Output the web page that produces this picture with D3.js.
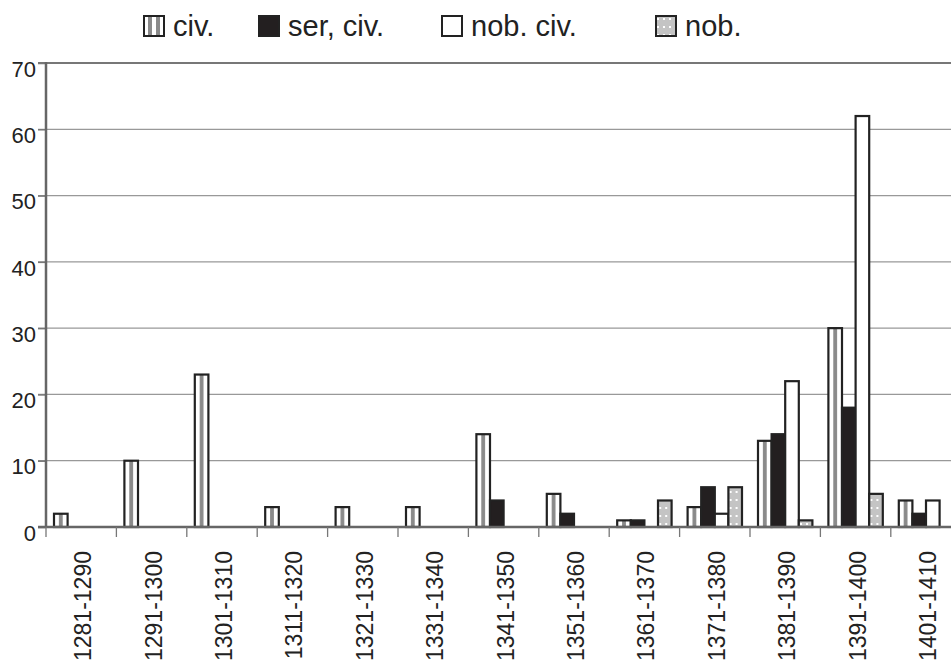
<!DOCTYPE html>
<html>
<head>
<meta charset="utf-8">
<script src="https://cdn.jsdelivr.net/npm/d3@7"></script>
<style>
  body { margin: 0; background: #fff; }
  svg { display: block; font-family: "Liberation Sans", Arial, sans-serif; }
</style>
</head>
<body>
<svg id="chart" width="951" height="665"></svg>
<script>
// Decades on the x axis
const decades = ["1281-1290", "1291-1300", "1301-1310", "1311-1320", "1321-1330", "1331-1340",
  "1341-1350", "1351-1360", "1361-1370", "1371-1380", "1381-1390", "1391-1400", "1401-1410"];
const seriesNames = ["civ.", "ser, civ.", "nob. civ.", "nob."];
// Values per series, one per decade
const civ     = [2, 10, 23, 3, 3, 3, 14, 5, 1, 3, 13, 30, 4];
const serCiv  = [0, 0, 0, 0, 0, 0, 4, 2, 1, 6, 14, 18, 2];
const nobCiv  = [0, 0, 0, 0, 0, 0, 0, 0, 0, 2, 22, 62, 4];
const nob     = [0, 0, 0, 0, 0, 0, 0, 0, 4, 6, 1, 5, 0];
const yTicks  = [0, 10, 20, 30, 40, 50, 60, 70];

const allSeries = [civ, serCiv, nobCiv, nob];

const svg = d3.select("#chart");
const plotLeft = 46, plotBottom = 527, plotTop = 63;

// Patterns for the filled bars
const defs = svg.append("defs");
const pStripe = defs.append("pattern").attr("id", "stripe")
  .attr("patternContentUnits", "objectBoundingBox")
  .attr("width", 1).attr("height", 1);
pStripe.append("rect").attr("width", 1).attr("height", 1).attr("fill", "#fff");
pStripe.append("rect").attr("x", 0.36).attr("width", 0.28).attr("height", 1).attr("fill", "#8a8a8a");

const pStripeLeg = defs.append("pattern").attr("id", "stripeLeg")
  .attr("patternContentUnits", "objectBoundingBox")
  .attr("width", 1).attr("height", 1);
pStripeLeg.append("rect").attr("width", 1).attr("height", 1).attr("fill", "#fff");
pStripeLeg.append("rect").attr("x", 0.2).attr("width", 0.2).attr("height", 1).attr("fill", "#8a8a8a");
pStripeLeg.append("rect").attr("x", 0.6).attr("width", 0.2).attr("height", 1).attr("fill", "#8a8a8a");

const pDots = defs.append("pattern").attr("id", "dots")
  .attr("patternUnits", "userSpaceOnUse").attr("width", 6).attr("height", 8);
pDots.append("rect").attr("width", 6).attr("height", 8).attr("fill", "#c4c4c4");
pDots.append("rect").attr("x", 2).attr("y", 3).attr("width", 2).attr("height", 2).attr("fill", "#fff");

const fills = ["url(#stripe)", "#231f20", "#fff", "url(#dots)"];
const legendFills = ["url(#stripeLeg)", "#231f20", "#fff", "url(#dots)"];

// Scales
const x0 = d3.scaleBand().domain(decades).range([plotLeft, plotLeft + 13 * 70.4]).padding(0);
const x1 = d3.scaleBand().domain(seriesNames).range([8, x0.bandwidth() - 8]).padding(0);
const y = d3.scaleLinear().domain([0, 70]).range([plotBottom, plotTop]);

// Gridlines
svg.append("g").selectAll("line").data(yTicks.filter(d => d > 0)).join("line")
  .attr("x1", plotLeft - 8).attr("x2", 951)
  .attr("y1", d => y(d)).attr("y2", d => y(d))
  .attr("stroke", d => d === 70 ? "#777" : "#999")
  .attr("stroke-width", d => d === 70 ? 2 : 1.3);

// Y axis
const yAxis = svg.append("g").attr("transform", `translate(${plotLeft},0)`)
  .call(d3.axisLeft(y).tickValues(yTicks).tickSize(8).tickPadding(2));
yAxis.select(".domain").remove();
yAxis.selectAll(".tick line").attr("stroke", "#777").attr("stroke-width", 1.5);
yAxis.selectAll(".tick text").attr("font-size", 22).attr("fill", "#222").attr("dy", "0.6em");
svg.append("line").attr("x1", plotLeft).attr("x2", plotLeft).attr("y1", plotTop - 1).attr("y2", plotBottom + 1)
  .attr("stroke", "#666").attr("stroke-width", 2.5);

// Bars
const groups = svg.append("g").selectAll("g").data(decades).join("g")
  .attr("transform", d => `translate(${x0(d)},0)`);
groups.selectAll("rect")
  .data((d, i) => seriesNames.map((s, j) => ({ s, j, v: allSeries[j][i] })).filter(e => e.v > 0))
  .join("rect")
  .attr("x", d => x1(d.s))
  .attr("y", d => y(d.v))
  .attr("width", x1.bandwidth())
  .attr("height", d => y(0) - y(d.v))
  .attr("fill", d => fills[d.j])
  .attr("stroke", "#222")
  .attr("stroke-width", 2.2);

// X axis baseline and ticks
svg.append("line").attr("x1", plotLeft - 8).attr("x2", 951).attr("y1", plotBottom).attr("y2", plotBottom)
  .attr("stroke", "#666").attr("stroke-width", 2.5);
svg.append("g").selectAll("line").data(decades).join("line")
  .attr("x1", d => x0(d)).attr("x2", d => x0(d))
  .attr("y1", plotBottom).attr("y2", plotBottom + 10)
  .attr("stroke", "#777").attr("stroke-width", 1.3);

svg.append("g").selectAll("text").data(decades).join("text")
  .attr("transform", d => `translate(${x0(d) + x0.bandwidth() / 2 + 2},551) rotate(-90)`)
  .attr("text-anchor", "end")
  .attr("dominant-baseline", "central")
  .attr("font-size", 23)
  .attr("fill", "#222")
  .text(d => d);

// Legend
const legendX = [143, 258, 441, 655];
const leg = svg.append("g").selectAll("g").data(seriesNames).join("g")
  .attr("transform", (d, i) => `translate(${legendX[i]},15)`);
leg.append("rect")
  .attr("x", 1).attr("y", 1).attr("width", 20).attr("height", 20)
  .attr("fill", (d, i) => legendFills[i])
  .attr("stroke", "#222").attr("stroke-width", 2);
leg.append("text")
  .attr("x", 30).attr("y", 21)
  .attr("font-size", 29)
  .attr("fill", "#222")
  .text(d => d);
</script>
</body>
</html>
